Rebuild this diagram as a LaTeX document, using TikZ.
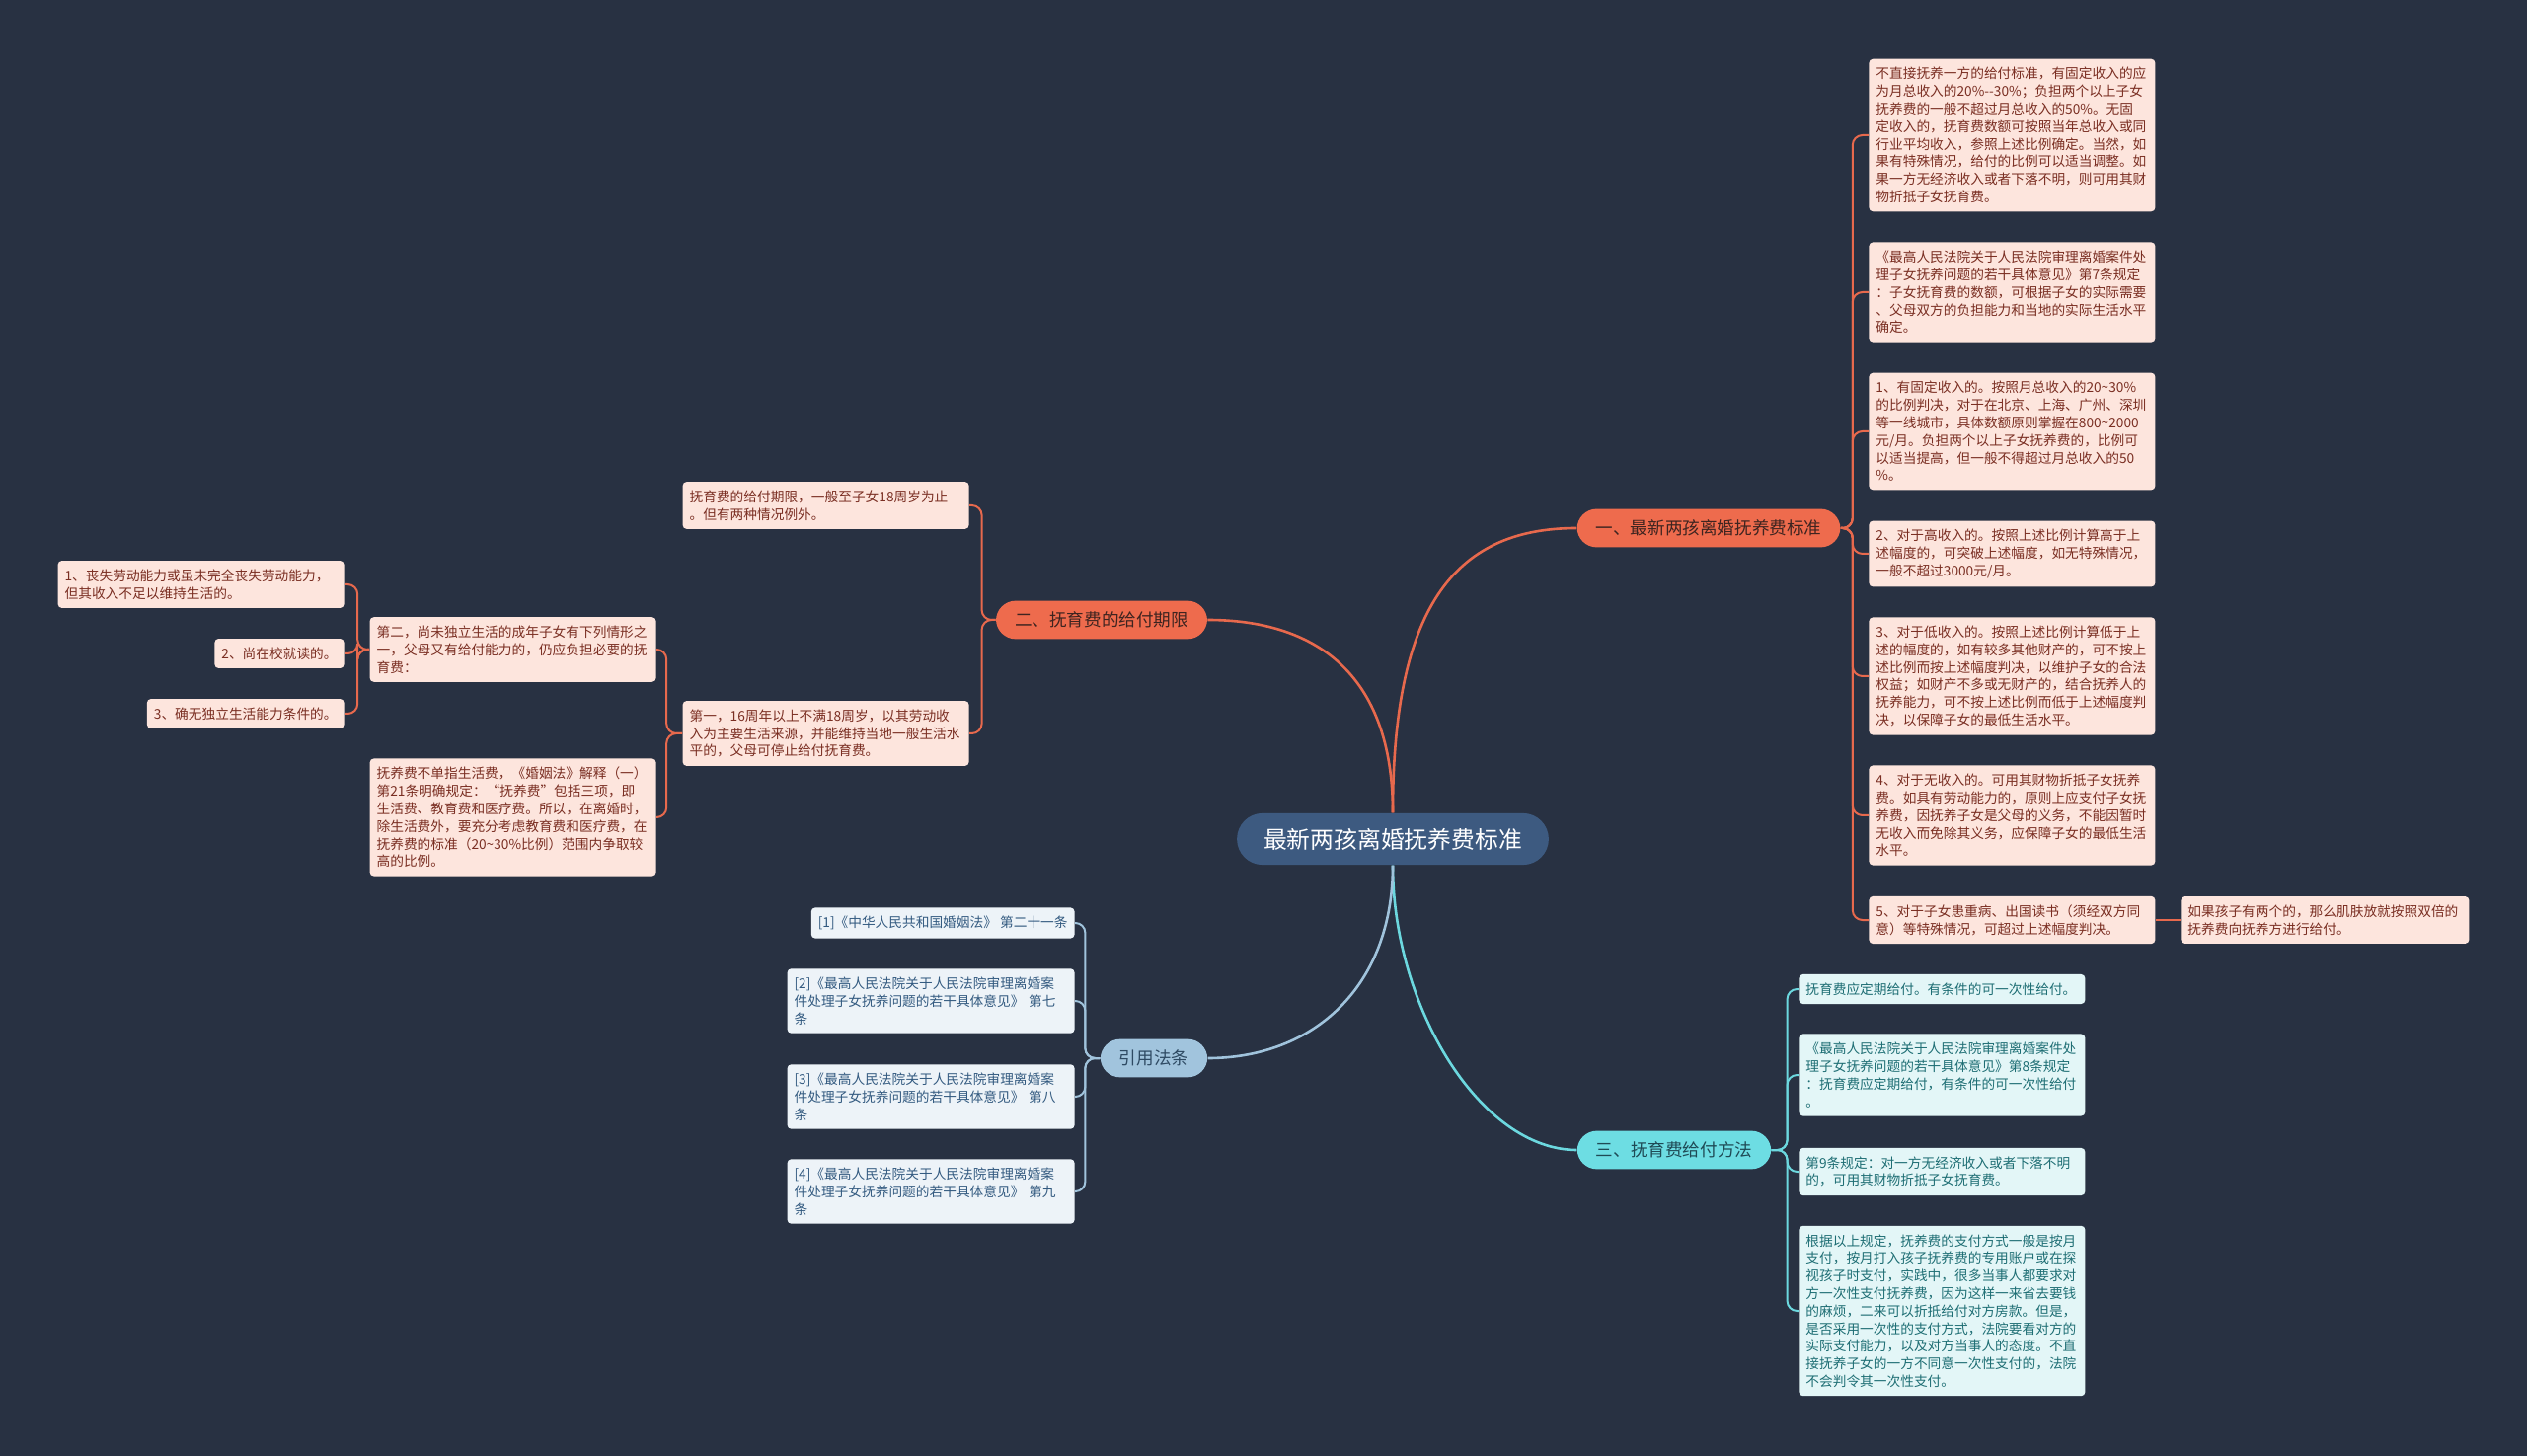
\documentclass[tikz,border=0pt]{standalone}
\usepackage{fontspec}
\setmainfont{Noto Sans CJK SC}

\definecolor{bgcol}{HTML}{283142}
\definecolor{rootfill}{HTML}{3D5A80}
\definecolor{orangemain}{HTML}{EE6B4D}
\definecolor{orangeline}{HTML}{E7694D}
\definecolor{orangeleaf}{HTML}{FDE5DD}
\definecolor{orangetext}{HTML}{7A2E22}
\definecolor{orangehead}{HTML}{3E2420}
\definecolor{cyanmain}{HTML}{6DDDE3}
\definecolor{cyanline}{HTML}{6CD8DF}
\definecolor{cyanleaf}{HTML}{E3F6F7}
\definecolor{cyantext}{HTML}{1E6E74}
\definecolor{cyanhead}{HTML}{1F4A55}
\definecolor{bluemain}{HTML}{A1C4DD}
\definecolor{blueline}{HTML}{A0C3DC}
\definecolor{blueleaf}{HTML}{EDF3F8}
\definecolor{bluetext}{HTML}{335A80}
\definecolor{bluehead}{HTML}{2E4A63}

\newcommand\leaffont{\fontsize{6.85pt}{8.9pt}\selectfont}
\newcommand\headfont{\fontsize{8.8pt}{10pt}\selectfont}
\newcommand\rootfont{\fontsize{11.9pt}{13pt}\selectfont}

\tikzset{
  leaf/.style={rounded corners=2pt, inner xsep=3.5pt, inner ysep=4.3pt,
    align=left, font=\leaffont},
  stdleaf/.style={leaf, fill=orangeleaf, text=orangetext, anchor=west, text width=138pt},
  termleaf/.style={leaf, fill=orangeleaf, text=orangetext, anchor=east, text width=138pt},
  payleaf/.style={leaf, fill=cyanleaf, text=cyantext, anchor=west, text width=138pt},
  lawleaf/.style={leaf, fill=blueleaf, text=bluetext, anchor=east},
  branch/.style={rounded corners=10pt, inner xsep=9.5pt, inner ysep=5.6pt, font=\headfont},
  root/.style={rounded corners=13pt, inner xsep=13.5pt, inner ysep=7.5pt,
    fill=rootfill, text=white, font=\rootfont},
  link/.style={line width=1pt, rounded corners=5pt},
  mainlink/.style={line width=1.3pt}
}

\begin{document}
\begin{tikzpicture}[x=0.5pt, y=-0.5pt]
  \useasboundingbox (0,0) rectangle (2560,1475);
  \fill[bgcol] (0,0) rectangle (2560,1475);

  % centre and main branches
  \node[root] (root) at (1411,850) {最新两孩离婚抚养费标准};
  \node[branch, fill=orangemain, text=orangehead] (std) at (1731,535) {一、最新两孩离婚抚养费标准};
  \node[branch, fill=orangemain, text=orangehead] (term) at (1116,628) {二、抚育费的给付期限};
  \node[branch, fill=cyanmain, text=cyanhead] (pay) at (1696,1165) {三、抚育费给付方法};
  \node[branch, fill=bluemain, text=bluehead] (law) at (1169,1072) {引用法条};

  \draw[mainlink, orangeline] (root.north) .. controls (1411,620) and (1470,535) .. (std.west);
  \draw[mainlink, orangeline] (root.north) .. controls (1411,680) and (1330,628) .. (term.east);
  \draw[mainlink, cyanline] (root.south) .. controls (1411,1020) and (1500,1165) .. (pay.west);
  \draw[mainlink, blueline] (root.south) .. controls (1411,1000) and (1330,1072) .. (law.east);

  % branch one
  \node[stdleaf] (std1) at (1893,137) {不直接抚养一方的给付标准，有固定收入的应\\为月总收入的20\%-\kern0pt-30\%；负担两个以上子女\\抚养费的一般不超过月总收入的50\%。无固\\定收入的，抚育费数额可按照当年总收入或同\\行业平均收入，参照上述比例确定。当然，如\\果有特殊情况，给付的比例可以适当调整。如\\果一方无经济收入或者下落不明，则可用其财\\物折抵子女抚育费。};
  \node[stdleaf] (std2) at (1893,296) {《最高人民法院关于人民法院审理离婚案件处\\理子女抚养问题的若干具体意见》第7条规定\\：子女抚育费的数额，可根据子女的实际需要\\、父母双方的负担能力和当地的实际生活水平\\确定。};
  \node[stdleaf] (std3) at (1893,437) {1、有固定收入的。按照月总收入的20\textasciitilde30\%\\的比例判决，对于在北京、上海、广州、深圳\\等一线城市，具体数额原则掌握在800\textasciitilde2000\\元/月。负担两个以上子女抚养费的，比例可\\以适当提高，但一般不得超过月总收入的50\\\%。};
  \node[stdleaf] (std4) at (1893,561) {2、对于高收入的。按照上述比例计算高于上\\述幅度的，可突破上述幅度，如无特殊情况，\\一般不超过3000元/月。};
  \node[stdleaf] (std5) at (1893,685) {3、对于低收入的。按照上述比例计算低于上\\述的幅度的，如有较多其他财产的，可不按上\\述比例而按上述幅度判决，以维护子女的合法\\权益；如财产不多或无财产的，结合抚养人的\\抚养能力，可不按上述比例而低于上述幅度判\\决，以保障子女的最低生活水平。};
  \node[stdleaf] (std6) at (1893,826) {4、对于无收入的。可用其财物折抵子女抚养\\费。如具有劳动能力的，原则上应支付子女抚\\养费，因抚养子女是父母的义务，不能因暂时\\无收入而免除其义务，应保障子女的最低生活\\水平。};
  \node[stdleaf] (std7) at (1893,932) {5、对于子女患重病、出国读书（须经双方同\\意）等特殊情况，可超过上述幅度判决。};
  \node[stdleaf, text width=139pt] (std7x) at (2209,932) {如果孩子有两个的，那么肌肤放就按照双倍的\\抚养费向抚养方进行给付。};

  \foreach \n in {1,...,7}
    \draw[link, orangeline] (std.east) -- ++(12,0) |- (std\n.west);
  \draw[link, orangeline] (std7.east) -- (std7x.west);

  % branch two
  \node[termleaf] (term1) at (982,512) {抚育费的给付期限，一般至子女18周岁为止\\。但有两种情况例外。};
  \node[termleaf] (term2) at (982,743) {第一，16周年以上不满18周岁，以其劳动收\\入为主要生活来源，并能维持当地一般生活水\\平的，父母可停止给付抚育费。};
  \node[termleaf] (rule1) at (665,658) {第二，尚未独立生活的成年子女有下列情形之\\一，父母又有给付能力的，仍应负担必要的抚\\育费：};
  \node[termleaf] (rule2) at (665,828) {抚养费不单指生活费，《婚姻法》解释（一）\\第21条明确规定：“抚养费”包括三项，即\\生活费、教育费和医疗费。所以，在离婚时，\\除生活费外，要充分考虑教育费和医疗费，在\\抚养费的标准（20\textasciitilde30\%比例）范围内争取较\\高的比例。};
  \node[termleaf] (case1) at (349,592) {1、丧失劳动能力或虽未完全丧失劳动能力，\\但其收入不足以维持生活的。};
  \node[termleaf, text width=] (case2) at (349,662) {2、尚在校就读的。};
  \node[termleaf, text width=] (case3) at (349,723) {3、确无独立生活能力条件的。};

  \foreach \n in {1,2}
    \draw[link, orangeline] (term.west) -- ++(-14,0) |- (term\n.east);
  \foreach \n in {1,2}
    \draw[link, orangeline] (term2.west) -- ++(-16,0) |- (rule\n.east);
  \foreach \n in {1,2,3}
    \draw[link, orangeline] (rule1.west) -- ++(-12,0) |- (case\n.east);

  % branch three
  \node[payleaf] (pay1) at (1822,1002) {抚育费应定期给付。有条件的可一次性给付。};
  \node[payleaf] (pay2) at (1822,1089) {《最高人民法院关于人民法院审理离婚案件处\\理子女抚养问题的若干具体意见》第8条规定\\：抚育费应定期给付，有条件的可一次性给付\\。};
  \node[payleaf] (pay3) at (1822,1187) {第9条规定：对一方无经济收入或者下落不明\\的，可用其财物折抵子女抚育费。};
  \node[payleaf] (pay4) at (1822,1328) {根据以上规定，抚养费的支付方式一般是按月\\支付，按月打入孩子抚养费的专用账户或在探\\视孩子时支付，实践中，很多当事人都要求对\\方一次性支付抚养费，因为这样一来省去要钱\\的麻烦，二来可以折抵给付对方房款。但是，\\是否采用一次性的支付方式，法院要看对方的\\实际支付能力，以及对方当事人的态度。不直\\接抚养子女的一方不同意一次性支付的，法院\\不会判令其一次性支付。};

  \foreach \n in {1,...,4}
    \draw[link, cyanline] (pay.east) -- ++(16,0) |- (pay\n.west);

  % cited articles
  \node[lawleaf] (law1) at (1089,935) {[1]《中华人民共和国婚姻法》 第二十一条};
  \node[lawleaf, text width=138.5pt] (law2) at (1089,1014) {[2]《最高人民法院关于人民法院审理离婚案\\件处理子女抚养问题的若干具体意见》 第七\\条};
  \node[lawleaf, text width=138.5pt] (law3) at (1089,1111) {[3]《最高人民法院关于人民法院审理离婚案\\件处理子女抚养问题的若干具体意见》 第八\\条};
  \node[lawleaf, text width=138.5pt] (law4) at (1089,1207) {[4]《最高人民法院关于人民法院审理离婚案\\件处理子女抚养问题的若干具体意见》 第九\\条};

  \foreach \n in {1,...,4}
    \draw[link, blueline] (law.west) -- ++(-15,0) |- (law\n.east);
\end{tikzpicture}
\end{document}
